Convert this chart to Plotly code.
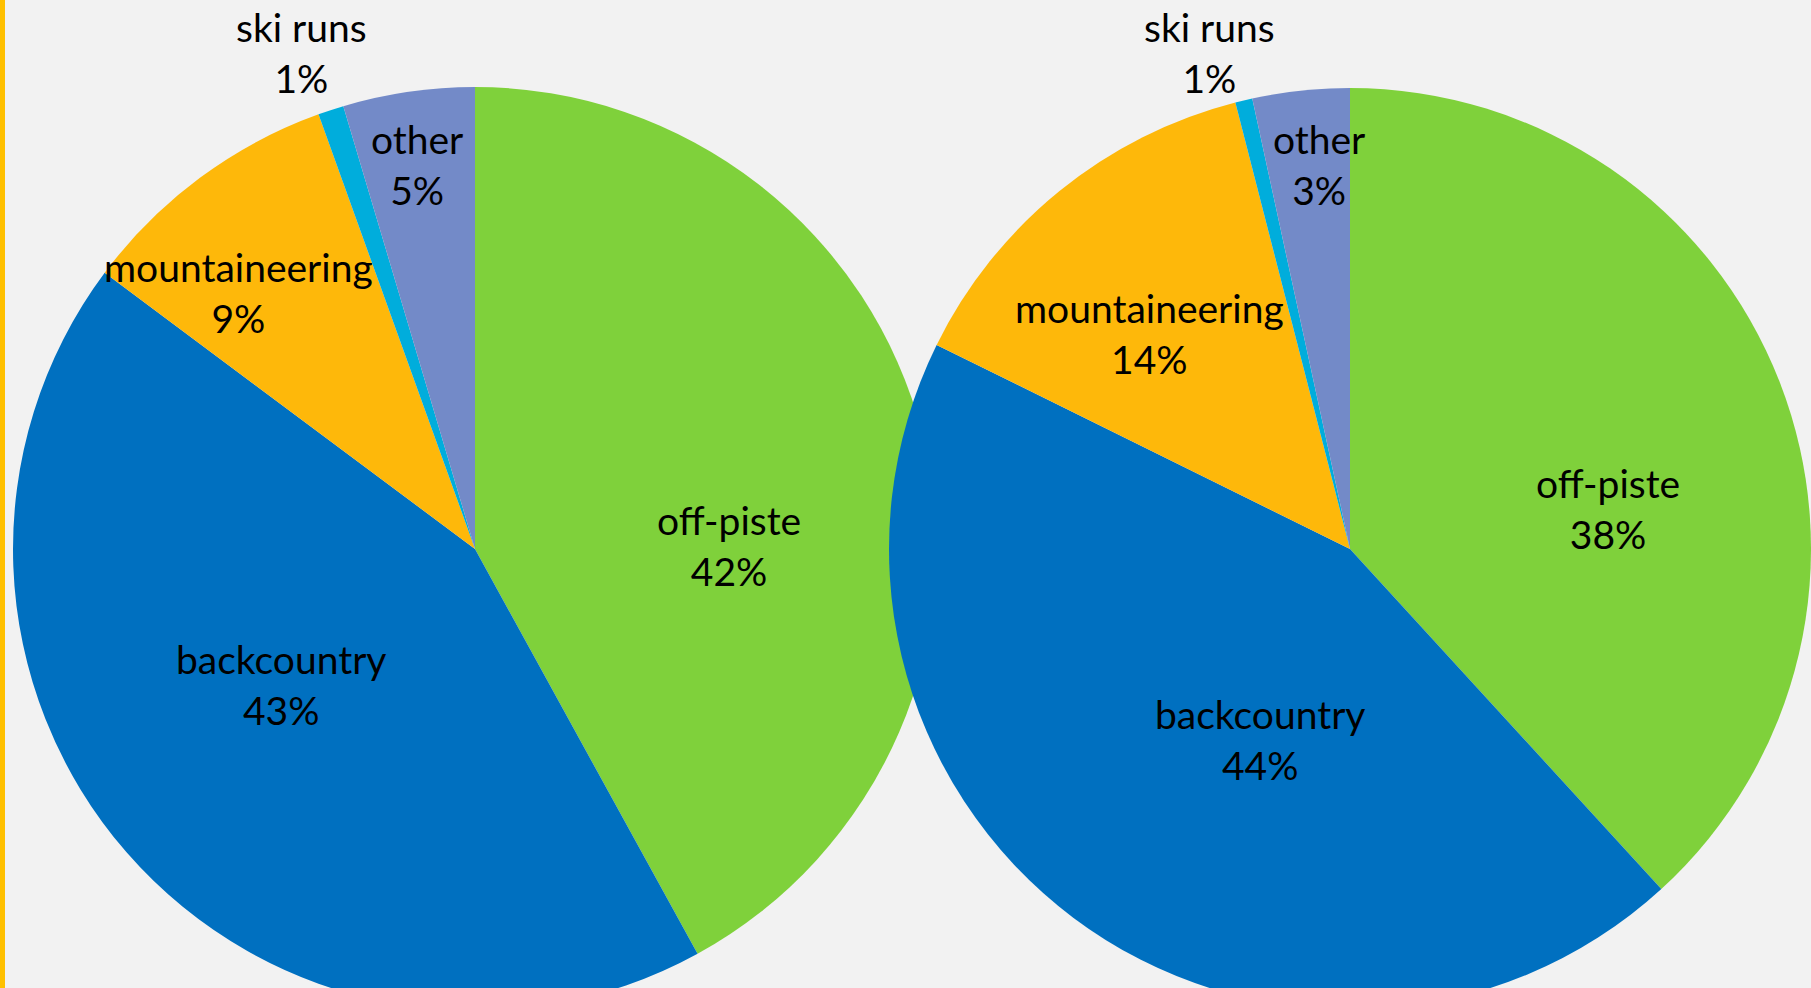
import plotly.graph_objects as go

W, H = 1811, 988
FIG_H = 1040  # page is cropped to the 988px window, pies run off the bottom like the reference

# ---- data ----
categories = ["off-piste", "backcountry", "mountaineering", "ski runs", "other"]
left_values = [42.0, 43.2, 9.3, 0.9, 4.6]
right_values = [38.2, 44.1, 13.7, 0.6, 3.4]

colors = ["#7FD13B", "#0070C0", "#FEB80A", "#00ADDC", "#738AC8"]

# ---- label positions (pixels from top-left), per category order ----
left_label_pos = [(729, 545), (281, 684), (239, 292), (301, 52), (417, 164)]
right_label_pos = [(1608, 508), (1260, 739), (1149, 333), (1209, 52), (1319, 164)]

FONT = "Lato, 'Open Sans', sans-serif"
FSIZE = 39

fig = go.Figure()

def add_pie(values, xdom):
    fig.add_trace(go.Pie(
        labels=categories,
        values=values,
        sort=False,
        direction="clockwise",
        rotation=0,
        marker=dict(colors=colors, line=dict(width=0)),
        textinfo="none",
        hoverinfo="skip",
        showlegend=False,
        domain=dict(x=xdom, y=[(FIG_H - 1011) / FIG_H, (FIG_H - 87) / FIG_H]),
    ))

add_pie(left_values, [13 / W, 937 / W])
add_pie(right_values, [889 / W, 1.0])

annotations = []
for values, positions in ((left_values, left_label_pos), (right_values, right_label_pos)):
    total = sum(values)
    for cat, v, (px, py) in zip(categories, values, positions):
        annotations.append(dict(
            text=f"{cat}<br>{round(v / total * 100):d}%",
            x=px / W, y=1 - py / FIG_H, xref="paper", yref="paper",
            xanchor="center", yanchor="middle", showarrow=False,
            font=dict(family=FONT, size=FSIZE, color="#000000"),
        ))

fig.update_layout(
    width=W, height=FIG_H,
    margin=dict(l=0, r=0, t=0, b=0),
    paper_bgcolor="#F2F2F2",
    plot_bgcolor="#F2F2F2",
    annotations=annotations,
    shapes=[dict(type="rect", xref="paper", yref="paper",
                 x0=0, x1=5 / W, y0=0, y1=1,
                 fillcolor="#FFC000", line=dict(width=0), layer="above")],
)

fig.write_html(
    "out.html",
    config={"displayModeBar": False},
    post_script="document.body.style.margin='0';document.body.style.overflow='hidden';"
                "document.documentElement.style.overflow='hidden';",
)
